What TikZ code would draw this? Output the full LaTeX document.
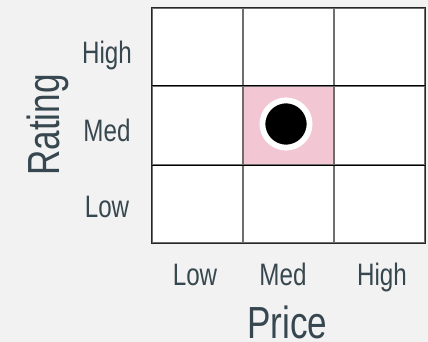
\documentclass[tikz,border=0pt]{standalone}
\usepackage{fontspec}
\setmainfont[FakeStretch=0.78]{Liberation Sans}
\usetikzlibrary{positioning}
\definecolor{cbg}{HTML}{F2F2F2}
\definecolor{cpink}{HTML}{F3C6D4}
\definecolor{cslate}{HTML}{37474F}
\definecolor{cgrid}{HTML}{6E6E6E}
\tikzset{
  every picture/.style={line width=1.3pt},
  cell/.style={draw=#1, fill=white, minimum width=91pt, minimum height=78pt, inner sep=0pt},
  cell/.default=cgrid,
  tick/.style={text=cslate, anchor=base, inner sep=0pt, font=\fontsize{31}{36}\selectfont},
  axis/.style={text=cslate, anchor=base, inner sep=0pt, font=\fontsize{45}{52}\selectfont},
}
\begin{document}
\begin{tikzpicture}[x=1pt, y=-1pt]
  \fill[cbg] (0,0) rectangle (428,342);
  \useasboundingbox (0,0) rectangle (428,342);
  % grid of cells
  \foreach \i in {0,1,2} {
    \foreach \j in {0,1,2} {
      \node[cell] (c-\i-\j) at (197.5+91*\i, 47.5+78*\j) {};
    }
  }
  \node[cell, fill=cpink] (c-1-1) at (288.5, 125.5) {};
  % row lines in black
  \draw[black] (c-0-1.north west) -- (c-2-1.north east);
  \draw[black] (c-0-1.south west) -- (c-2-1.south east);
  \draw[black!85] (c-0-0.north west) rectangle (c-2-2.south east);
  % marker
  \node[circle, draw=white, line width=5.8pt, fill=black, minimum size=47.2pt, inner sep=0pt] (dot) at (286,124) {};
  % tick labels
  \node[tick] (r-high) at (107,64) {High};
  \node[tick] (r-med) at (107,141) {Med};
  \node[tick] (r-low) at (107,217) {Low};
  \node[tick] (p-low) at (195,285) {Low};
  \node[tick] (p-med) at (283,285) {Med};
  \node[tick] (p-high) at (382,285) {High};
  % axis titles
  \node[axis] (price) at (287.5,338) {Price};
  \node[axis, rotate=90] (rating) at (59,125) {Rating};
\end{tikzpicture}
\end{document}
